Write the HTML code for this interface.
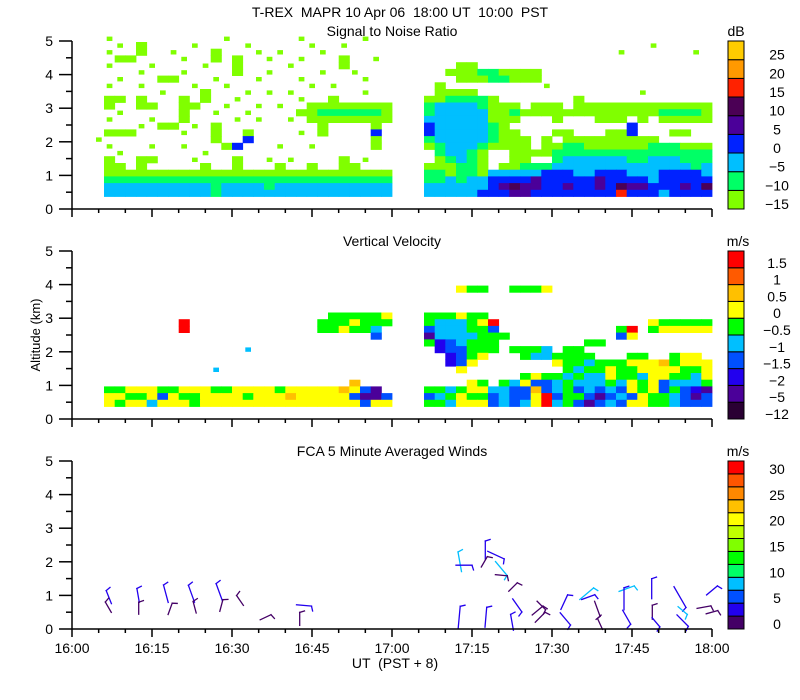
<!DOCTYPE html>
<html><head><meta charset="utf-8">
<style>
body{margin:0;background:#fff;}
svg{display:block;font-family:"Liberation Sans",sans-serif;}
text{fill:#000;font-size:14px;}
</style></head>
<body>
<svg id="chart" width="800" height="700" viewBox="0 0 800 700" xmlns="http://www.w3.org/2000/svg">
<text x="400" y="17" text-anchor="middle" xml:space="preserve">T-REX  MAPR 10 Apr 06  18:00 UT  10:00  PST</text>
<text x="392" y="36" text-anchor="middle">Signal to Noise Ratio</text>
<text x="392" y="246" text-anchor="middle">Vertical Velocity</text>
<text x="392" y="456" text-anchor="middle">FCA 5 Minute Averaged Winds</text>
<text x="736" y="36" text-anchor="middle">dB</text>
<text x="738" y="246" text-anchor="middle">m/s</text>
<text x="738" y="456" text-anchor="middle">m/s</text>
<text transform="translate(40,335) rotate(-90)" text-anchor="middle" style="font-size:13px">Altitude (km)</text>
<text x="395" y="668" text-anchor="middle" xml:space="preserve">UT  (PST + 8)</text>
<g id="layers"></g>
</svg>
<script>
// ---- data ----
const xTickLabels = ["16:00","16:15","16:30","16:45","17:00","17:15","17:30","17:45","18:00"];
const yTickLabels = ["0","1","2","3","4","5"];
const snrColors = ["#80ff00","#00ff66","#00bfff","#0022ff","#4b0099","#4b0055","#ff2200","#ff9900","#ffcc00"];
const snrLabels = ["-15","-10","-5","0","5","10","15","20","25"];
const snrCodes = "abcdefghi";
const vvColors = ["#2a0033","#4b0099","#2200ee","#0050ff","#00bfff","#00ff00","#ffff00","#ffc000","#ff5a00","#ff0000"];
const vvLabels = ["-12","-5","-2","-1.5","-1","-0.5","0","0.5","1","1.5"];
const vvCodes = "kpnucgyoOr";
const windColors = ["#440066","#2200ee","#0050ff","#00bfff","#00ff66","#00ff00","#80ff00","#c0ff00","#ffff00","#ffc000","#ff8800","#ff5500","#ff0000"];
const windLabels = ["0","","5","","10","","15","","20","","25","","30"];
// grid rows: top (alt 4.97) to bottom (alt 0.37), 0.2 km each; 60 columns of 2 minutes
const snrGrid = [
"...a...... ....a..... .a.....a.. .......... .......... ..........",
"....a.a... .a....a... ..a..a.... .......... .......... ....a.....",
"...a..a..a ...a...a.a ...a...... .......... .......... .a......a.",
"....aa.... a..a.a..a. .a...a..a. .......... .......... ..........",
"...a...a.. ..a..a.... a....a.... ......aa.. .......... ..........",
"......a... a....a..a. ...a..a... .....aaabb aaaa...... ..........",
"....a...aa ...a...a.. .a.....a.. ......aaab baaa...... ..........",
"...a..a... .a..a..... ..a.a..... ....a..... ....a..... ..........",
"........a. ..a...a.a. a......a.. ....aaaa.. .......... ...a......",
"...aa.a... a.a..a.... .a..a..... ...aabbbba .......a.. ..........",
"...a..aa.. aa..a..a.a ..aaaaaaaa ...bccccba aa.aaa.aaa aaaaaaaaaa",
"....a..... a..a..a... .aabbbbbba ...bccccca abaaaaaaaa aaaaabbbba",
"...a...a.. a....a.a.. a.aaaaaaaa ...cccccca aa...a...a aa.a.aaaaa",
"......a.aa .a.a...... ...a....a. ...dcccccb a......... ..d.......",
"...aaa.... a..a..a... .a.a....d. ...dcccccb aa...aa... aad...aa..",
"..a....... ...a..d... ........a. ...bcccccb aaa.a.aaaa aaaaa.....",
"...a...a.. a...ad...a ..a.....a. ...abcccba aaa.aabbaa aaaabbbaaa",
"....a..... ..a....... .......... ....bccba. .aaaabbbbb bbbbbbbbbb",
"...a..aa.. .a...a..a. a....a.a.. ....abcba. .aa..bcccc ccbbcccbbb",
"...aa.a... ..a..a...a ..a..aa... ...aaabba. aabbbccccc ccccccccbc",
"...aaaaaaa aaaaaaaaaa aaaaaaaaaa ...bbabbac ccccdddccd ddcccddddc",
"...bbbbbbb bbbbbbbbbb bbbbbbbbbb ...bbcbccd dddeddddde ddddcddddd",
"...ccccccc cccbccccbc cccccccccc ...ccccccd efeeddedde dfeedddedf",
"...ccccccc cccbcccccc cccccccccc ...cccccdd deeddddddd dgdddcdddd"
];
const vvGrid = [
".......... .......... .......... .......... .......... ..........",
".......... .......... .......... .......... .......... ..........",
".......... .......... .......... .......... .......... ..........",
".......... .......... .......... .......... .......... ..........",
".......... .......... .......... .......... .......... ..........",
".......... .......... .......... .......... .......... ..........",
".......... .......... .......... ......ygg. .gggy..... ..........",
".......... .......... .......... .......... .......... ..........",
".......... .......... .......... .......... .......... ..........",
".......... .......... .......... .......... .......... ..........",
".......... .......... ....gggggy ...gggygg. .......... ..........",
".......... r......... ...gggyggg ...gcccgyr .......... ....yggggg",
".......... r......... ...ggyggc. ...ucccggu .......... .gr.gyyyyy",
".......... .......... ........u. ...pccccgg g......... .uy.......",
".......... .......... .......... ...gnucggg ........gg ..........",
".......... ......c... .......... ....nuuggg .gggc.gg.. ..........",
".......... .......... .......... .....nugy. ..gccgggg. ..gg..gyy.",
".......... .......... .......... .....nuy.. .....yggcg ggyyyogyyy",
".......... ...c...... .......... ......y... ......gcgg yggyyyyggy",
".......... .......... .......... .......... ..gyggcgcc yggcyyggcy",
".......... .......... ......o... .......yg. gcyuucgccc gcygyucccg",
"...ggyyygg yyyggyyyyg yyyyyoyup. ...ggcgyyc cuuoucgucu cuygyugunp",
"...yyggyuy ggyyyygyyy oyyyyyuppu ...ucgyggu cuuyruggup ucuyggcupu",
"...ygyycyy ygyyyyyyyy yyyyyyyuyy ...ggcyyyu cucyrcgupu cuyyggcuuu"
];
// winds: time (min after 16:00), altitude (km), staff angle (deg from up, clockwise), length (px), speed (m/s)
const barbTime  = [6.9,6.8,12.4,12.5,17.6,18.4,22.4,23,27.6,28,31.5,36.3,43.5,42.7,72.7,73.5,72.6,77.5,79.5,77.3,80.5,80.5,77.6,82.7,83.5,82.5,87.3,87.8,88,92.3,92.5,96.5,96.8,98.5,99,104,103.5,104,108.7,108.8,109.5,114,114.5,114.5,118.5,120,120];
const barbAlt   = [0.95,0.65,1.0,0.62,1.05,0.6,1.05,0.65,1.1,0.7,0.85,0.35,0.7,0.3,2.0,1.9,0.35,2.35,2.2,2.0,1.8,1.6,0.35,1.25,0.7,0.2,0.55,0.35,0.7,0.8,0.3,1.05,0.95,0.6,0.15,1.2,0.9,0.35,1.2,0.5,0.2,0.95,0.55,0.25,0.65,1.15,0.5];
const barbAngle = [-22,-30,-10,0,-15,20,-20,-15,-20,15,-35,65,95,0,-10,90,5,0,115,30,140,95,5,45,145,-10,50,45,135,25,140,50,70,160,-25,70,0,150,0,0,140,150,130,135,80,50,75];
const barbLen   = [14,12,14,12,18,12,18,12,18,12,12,12,15,13,20,16,22,18,18,12,18,12,20,12,16,16,14,14,12,16,16,18,14,16,12,16,22,16,20,14,12,24,12,16,14,14,12];
const barbSpeed = [4,2,4,2,4,2,4,2,4,2,2,2,4,2,9,4,4,4,4,2,9,2,4,2,4,4,2,2,2,4,4,9,4,2,2,9,4,4,4,2,4,4,9,4,2,4,2];

// ---- layout ----
const NS = "http://www.w3.org/2000/svg";
const X0 = 72, X1 = 712, PXKM = 33.6;
const panelBottoms = [209, 419, 629];
function xScale(min){ return X0 + (X1 - X0) * min / 120; }
function yScale(alt, p){ return panelBottoms[p] - alt * PXKM; }
const root = document.getElementById("layers");
function mk(tag, attrs, parent){
  const e = document.createElementNS(NS, tag);
  for (const k in attrs) e.setAttribute(k, attrs[k]);
  (parent || root).appendChild(e);
  return e;
}

function drawGrid(grid, codes, colors, p, name){
  const g = mk("g", {});
  
  
  const nRows = grid.length;
  const rows = grid.map(s => s.replace(/ /g, ""));
  rows.forEach((row, ri) => {
    const altBot = 0.37 + 0.2 * (nRows - 1 - ri);
    for (let c = 0; c < row.length; c++){
      const idx = codes.indexOf(row[c]);
      if (idx < 0) continue;
      let x = xScale(c * 2), w = xScale(c * 2 + 2) - x;
      let yT = yScale(altBot + 0.2, p), h = yScale(altBot, p) - yT;
      const isolated = (row[c-1] || ".") === "." && (row[c+1] || ".") === "." &&
        ((rows[ri-1] || "")[c] || ".") === "." && ((rows[ri+1] || "")[c] || ".") === ".";
      if (isolated){ x += w * 0.25; w *= 0.5; yT += h * 0.2; h *= 0.6; }
      const r = mk("rect", {x: x.toFixed(1), y: yT.toFixed(1), width: (w + 0.4).toFixed(1), height: (h + 0.4).toFixed(1), fill: colors[idx]}, g);
      
      
    }
  });
}
drawGrid(snrGrid, snrCodes, snrColors, 0, "snr-heatmap");
drawGrid(vvGrid, vvCodes, vvColors, 1, "vv-heatmap");

// wind barbs
const wg = mk("g", {"stroke-width": 1.3, "stroke-linecap": "square"});


function windColor(s){ return windColors[Math.min(windColors.length - 1, Math.floor(s / 2.5))]; }
barbTime.forEach((t, i) => {
  const cx = xScale(t), cy = yScale(barbAlt[i], 2);
  const a = barbAngle[i] * Math.PI / 180, L = barbLen[i] / 2;
  const dx = Math.sin(a) * L, dy = -Math.cos(a) * L;
  const col = windColor(barbSpeed[i]);
  const ln = mk("line", {x1: (cx - dx).toFixed(1), y1: (cy - dy).toFixed(1), x2: (cx + dx).toFixed(1), y2: (cy + dy).toFixed(1), stroke: col}, wg);
  
  
  const b = a + Math.PI / 2.5;
  const tk = mk("line", {x1: (cx + dx).toFixed(1), y1: (cy + dy).toFixed(1), x2: (cx + dx + Math.sin(b) * 5).toFixed(1), y2: (cy + dy - Math.cos(b) * 5).toFixed(1), stroke: col}, wg);
  
  
});

// axes
for (let p = 0; p < 3; p++){
  const ag = mk("g", {stroke: "#000", "stroke-width": 1.5});
  
  
  const yb = panelBottoms[p], yt = yScale(5, p);
  mk("line", {x1: X0, y1: yt, x2: X0, y2: yb}, ag);
  mk("line", {x1: X0, y1: yb, x2: X1, y2: yb}, ag);
  for (let m = 0; m <= 120; m += 5){
    const x = xScale(m);
    mk("line", {x1: x, y1: yb, x2: x, y2: yb + (m % 15 === 0 ? 8 : 4)}, ag);
  }
  for (let k = 0; k <= 10; k++){
    const y = yScale(k / 2, p);
    mk("line", {x1: X0 - (k % 2 === 0 ? 13 : 6), y1: y, x2: X0, y2: y}, ag);
  }
  yTickLabels.forEach((lab, k) => {
    const t = mk("text", {x: 53, y: yScale(k, p) + 5, "text-anchor": "end"});
    t.textContent = lab;
    
    
  });
}
xTickLabels.forEach((lab, k) => {
  const t = mk("text", {x: xScale(k * 15), y: 653, "text-anchor": "middle"});
  t.textContent = lab;
  
  
});

// colorbars
function colorbar(colors, labels, p, name){
  const g = mk("g", {});
  
  
  const top = yScale(5, p), bot = panelBottoms[p], n = colors.length, h = (bot - top) / n;
  colors.forEach((c, i) => {
    const y = bot - (i + 1) * h;
    const r = mk("rect", {x: 728, y: y.toFixed(1), width: 16, height: h.toFixed(1), fill: c, stroke: "#000", "stroke-width": 1}, g);
    
    
    if (labels[i]){
      const t = mk("text", {x: 777, y: (bot - i * h + 0).toFixed(1), "text-anchor": "middle"}, g);
      t.textContent = labels[i].replace("-", "\u2212");
      
      
    }
  });
}
colorbar(snrColors, snrLabels, 0, "snr-colorbar");
colorbar(vvColors, vvLabels, 1, "vv-colorbar");
colorbar(windColors, windLabels, 2, "wind-colorbar");
</script>
</body></html>
